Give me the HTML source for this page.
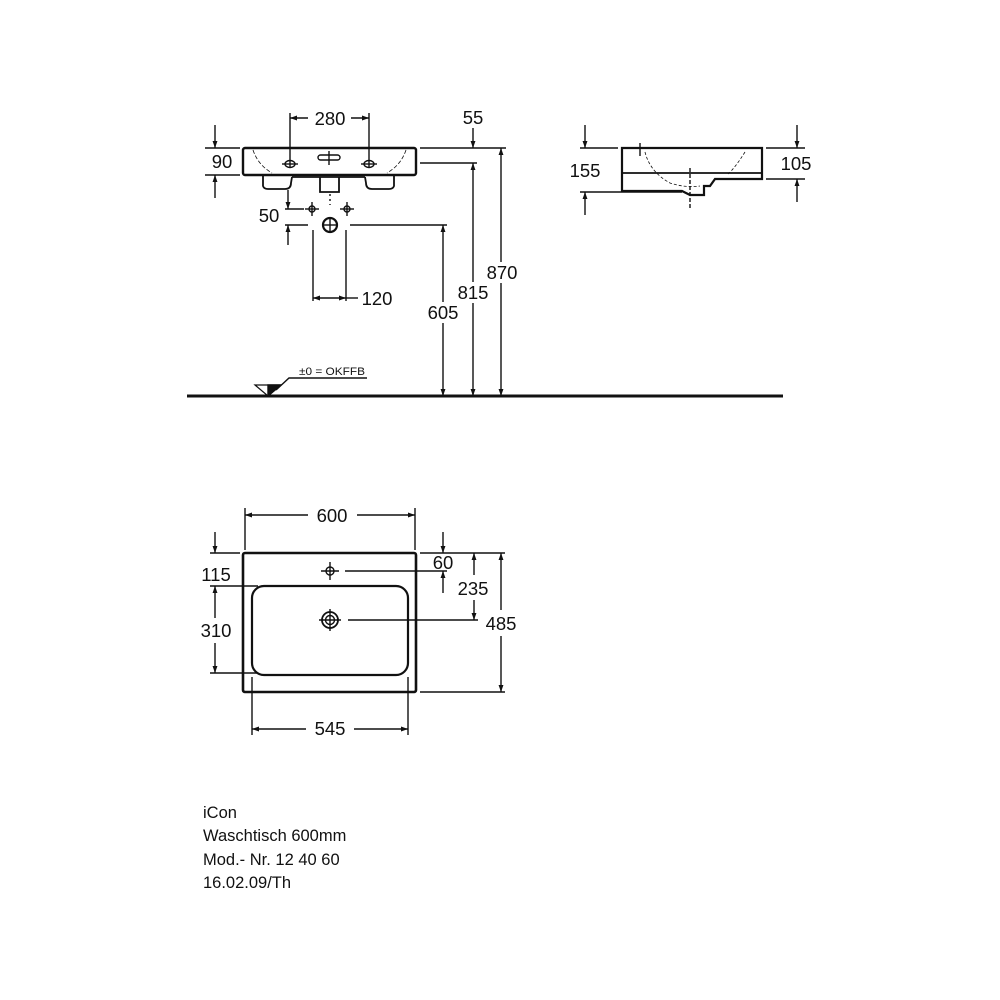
<!DOCTYPE html>
<html><head><meta charset="utf-8"><style>
html,body{margin:0;padding:0;background:#fff;}
svg{display:block;}
text{font-family:"Liberation Sans",Arial,sans-serif;fill:#111;}
</style></head><body>
<svg width="1000" height="1000" viewBox="0 0 1000 1000" xmlns="http://www.w3.org/2000/svg">
<defs>
<marker id="a" viewBox="0 0 10 10" refX="10" refY="5" markerWidth="7" markerHeight="7" orient="auto-start-reverse" markerUnits="userSpaceOnUse"><path d="M0,1.5 L10,5 L0,8.5 z" fill="#111"/></marker>
</defs>
<g stroke="#111" stroke-width="1.4" fill="none">
<!-- FRONT VIEW -->
<rect x="243" y="148" width="173" height="27" rx="2" stroke-width="2.4"/>
<path d="M253,150 Q258,165 272,173 M406,150 Q401,165 387,173" stroke-width="0.8" stroke-dasharray="4,2"/>
<path d="M263,176 L263,186 Q264,189 268,189 L285,189 Q291,189 291,183 L292,177" stroke-width="1.8"/>
<path d="M394,176 L394,186 Q393,189 389,189 L372,189 Q366,189 366,183 L365,177" stroke-width="1.8"/>
<path d="M320,177 L320,192 L339,192 L339,177" stroke-width="1.8"/>
<line x1="292" y1="177" x2="365" y2="177" stroke-width="1.8"/>
<line x1="330" y1="194" x2="330" y2="205" stroke-dasharray="2,3"/>
<rect x="318" y="155" width="22" height="5" rx="2.5"/>
<line x1="329" y1="151" x2="329" y2="165"/>
<ellipse cx="290" cy="164" rx="5" ry="3.5"/><line x1="282" y1="164" x2="298" y2="164"/>
<ellipse cx="369" cy="164" rx="5" ry="3.5"/><line x1="361" y1="164" x2="377" y2="164"/>
<line x1="290" y1="113" x2="290" y2="167"/><line x1="369" y1="113" x2="369" y2="167"/>
<line x1="290" y1="118" x2="308" y2="118" marker-start="url(#a)"/>
<line x1="351" y1="118" x2="369" y2="118" marker-end="url(#a)"/>
<line x1="473" y1="128" x2="473" y2="148" marker-end="url(#a)"/>
<line x1="420" y1="148" x2="506" y2="148"/>
<line x1="420" y1="163" x2="477" y2="163"/>
<line x1="501" y1="148" x2="501" y2="262" marker-start="url(#a)"/>
<line x1="501" y1="283" x2="501" y2="396" marker-end="url(#a)"/>
<line x1="473" y1="163" x2="473" y2="282" marker-start="url(#a)"/>
<line x1="473" y1="303" x2="473" y2="396" marker-end="url(#a)"/>
<line x1="350" y1="225" x2="447" y2="225"/>
<line x1="443" y1="225" x2="443" y2="302" marker-start="url(#a)"/>
<line x1="443" y1="323" x2="443" y2="396" marker-end="url(#a)"/>
<line x1="205" y1="148" x2="240" y2="148"/><line x1="205" y1="175" x2="240" y2="175"/>
<line x1="215" y1="125" x2="215" y2="148" marker-end="url(#a)"/>
<line x1="215" y1="198" x2="215" y2="175" marker-end="url(#a)"/>
<line x1="288" y1="190" x2="288" y2="209" marker-end="url(#a)"/>
<line x1="288" y1="245" x2="288" y2="225" marker-end="url(#a)"/>
<line x1="285" y1="209" x2="304" y2="209"/><line x1="285" y1="225" x2="308" y2="225"/>
<circle cx="312" cy="209" r="3"/><line x1="305" y1="209" x2="319" y2="209"/><line x1="312" y1="202" x2="312" y2="216"/>
<circle cx="347" cy="209" r="3"/><line x1="340" y1="209" x2="354" y2="209"/><line x1="347" y1="202" x2="347" y2="216"/>
<circle cx="330" cy="225" r="7" stroke-width="2.2"/><line x1="323" y1="225" x2="337" y2="225"/><line x1="330" y1="218" x2="330" y2="232"/>
<line x1="313" y1="230" x2="313" y2="301"/><line x1="346" y1="230" x2="346" y2="301"/>
<line x1="313" y1="298" x2="346" y2="298" marker-start="url(#a)" marker-end="url(#a)"/>
<line x1="346" y1="298" x2="358" y2="298"/>
<line x1="187" y1="396" x2="783" y2="396" stroke-width="3"/>
<path d="M255,385 L281,385 L268,396 z" stroke-width="1.2"/>
<path d="M268,385 L281,385 L268,396 z" fill="#111"/>
<polyline points="276,390 289,378 367,378"/>
<!-- SIDE VIEW -->
<path d="M622,148 L762,148 L762,179 L715,179 L710,186 L704,186 L704,195 L690,195 L682,191 L622,191 Z" stroke-width="2.2"/>
<line x1="622" y1="173" x2="762" y2="173" stroke-width="1.8"/>
<path d="M645,152 Q650,172 670,183 Q685,188 700,186 M745,152 Q735,168 728,174" stroke-width="0.8" stroke-dasharray="3,2"/>
<line x1="690" y1="168" x2="690" y2="210" stroke-dasharray="4,2"/>
<line x1="640" y1="143" x2="640" y2="156"/>
<line x1="580" y1="148" x2="618" y2="148"/><line x1="580" y1="192" x2="682" y2="192"/>
<line x1="585" y1="125" x2="585" y2="148" marker-end="url(#a)"/>
<line x1="585" y1="215" x2="585" y2="192" marker-end="url(#a)"/>
<line x1="766" y1="148" x2="805" y2="148"/><line x1="766" y1="179" x2="805" y2="179"/>
<line x1="797" y1="125" x2="797" y2="148" marker-end="url(#a)"/>
<line x1="797" y1="202" x2="797" y2="179" marker-end="url(#a)"/>
<!-- PLAN VIEW -->
<rect x="243" y="553" width="173" height="139" rx="2" stroke-width="2.6"/>
<rect x="252" y="586" width="156" height="89" rx="12" stroke-width="2.2"/>
<line x1="245" y1="508" x2="245" y2="550"/><line x1="415" y1="508" x2="415" y2="550"/>
<line x1="245" y1="515" x2="308" y2="515" marker-start="url(#a)"/>
<line x1="357" y1="515" x2="415" y2="515" marker-end="url(#a)"/>
<line x1="252" y1="677" x2="252" y2="735"/><line x1="408" y1="677" x2="408" y2="735"/>
<line x1="252" y1="729" x2="306" y2="729" marker-start="url(#a)"/>
<line x1="354" y1="729" x2="408" y2="729" marker-end="url(#a)"/>
<line x1="210" y1="553" x2="240" y2="553"/><line x1="210" y1="586" x2="258" y2="586"/><line x1="210" y1="673" x2="258" y2="673"/>
<line x1="215" y1="532" x2="215" y2="553" marker-end="url(#a)"/>
<line x1="215" y1="586" x2="215" y2="618" marker-start="url(#a)"/>
<line x1="215" y1="643" x2="215" y2="673" marker-end="url(#a)"/>
<circle cx="330" cy="571" r="4"/><line x1="321" y1="571" x2="339" y2="571"/><line x1="330" y1="562" x2="330" y2="580"/>
<line x1="345" y1="571" x2="447" y2="571"/>
<line x1="420" y1="553" x2="505" y2="553"/>
<line x1="443" y1="532" x2="443" y2="553" marker-end="url(#a)"/>
<line x1="443" y1="593" x2="443" y2="571" marker-end="url(#a)"/>
<circle cx="330" cy="620" r="8" stroke-width="1.8"/><circle cx="330" cy="620" r="4.5"/>
<line x1="319" y1="620" x2="341" y2="620"/><line x1="330" y1="609" x2="330" y2="631"/>
<line x1="348" y1="620" x2="478" y2="620"/>
<line x1="474" y1="553" x2="474" y2="575" marker-start="url(#a)"/>
<line x1="474" y1="600" x2="474" y2="620" marker-end="url(#a)"/>
<line x1="420" y1="692" x2="505" y2="692"/>
<line x1="501" y1="553" x2="501" y2="610" marker-start="url(#a)"/>
<line x1="501" y1="636" x2="501" y2="692" marker-end="url(#a)"/>
</g>
<g font-size="18.5">
<text x="330" y="125" text-anchor="middle">280</text>
<text x="473" y="124" text-anchor="middle">55</text>
<text x="222" y="168" text-anchor="middle">90</text>
<text x="502" y="279" text-anchor="middle">870</text>
<text x="473" y="299" text-anchor="middle">815</text>
<text x="443" y="319" text-anchor="middle">605</text>
<text x="269" y="222" text-anchor="middle">50</text>
<text x="377" y="305" text-anchor="middle">120</text>
<text x="585" y="177" text-anchor="middle">155</text>
<text x="796" y="170" text-anchor="middle">105</text>
<text x="332" y="522" text-anchor="middle">600</text>
<text x="330" y="735" text-anchor="middle">545</text>
<text x="216" y="581" text-anchor="middle">115</text>
<text x="216" y="637" text-anchor="middle">310</text>
<text x="443" y="569" text-anchor="middle">60</text>
<text x="473" y="595" text-anchor="middle">235</text>
<text x="501" y="630" text-anchor="middle">485</text>
</g>
<text x="299" y="375" font-size="11" textLength="66" lengthAdjust="spacingAndGlyphs">±0 = OKFFB</text>
<g font-size="16.5">
<text x="203" y="818">iCon</text>
<text x="203" y="841">Waschtisch 600mm</text>
<text x="203" y="865">Mod.- Nr. 12 40 60</text>
<text x="203" y="888">16.02.09/Th</text>
</g>
</svg>
</body></html>
